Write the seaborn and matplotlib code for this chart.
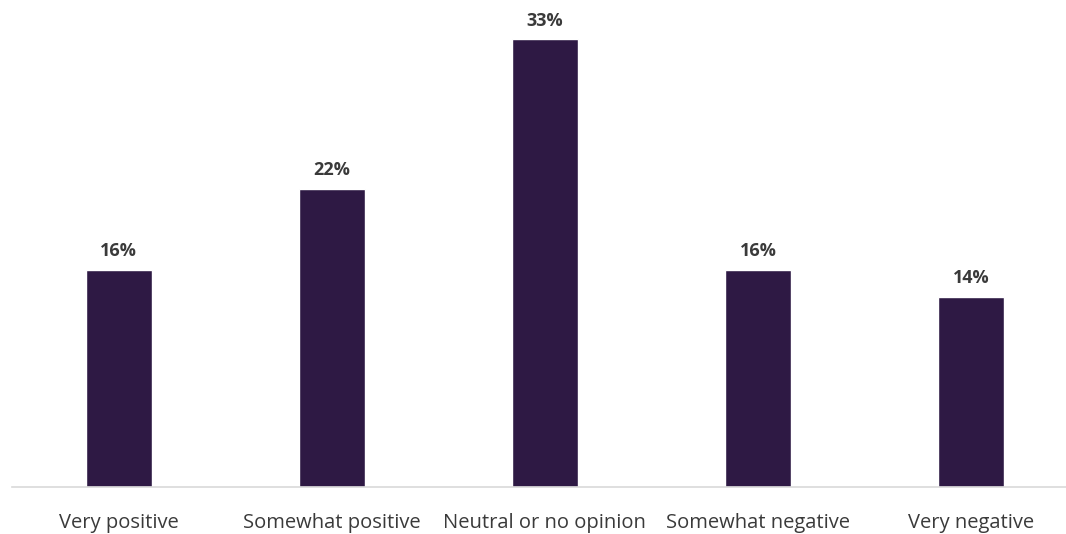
import matplotlib
matplotlib.use('Agg')
import matplotlib.pyplot as plt
import seaborn as sns
import pandas as pd

categories = ['Very positive', 'Somewhat positive', 'Neutral or no opinion',
              'Somewhat negative', 'Very negative']
values = [16, 22, 33, 16, 14]

sns.set_style('white')
plt.rcParams['font.family'] = ['Open Sans', 'DejaVu Sans']

df = pd.DataFrame({'category': categories, 'value': values})

fig = plt.figure(figsize=(10.66, 5.34), dpi=100)
ax = fig.add_axes([12/1066, 47/534, 1054/1066, 487/534])

sns.barplot(data=df, x='category', y='value', color='#2e1944',
            saturation=1, width=0.31, ax=ax)

for i, v in enumerate(values):
    ax.annotate('%d%%' % v, (i, v), xytext=(0, 7), textcoords='offset points',
                ha='center', va='bottom', fontsize=13, fontweight='bold',
                color='#3a3a3a')

ax.set_xlim(-0.5, 4.445)
ax.set_ylim(0, 35.9)
ax.set_xlabel('')
ax.set_ylabel('')
ax.set_yticks([])
for s in ['top', 'right', 'left']:
    ax.spines[s].set_visible(False)
ax.spines['bottom'].set_color('#d9d9d9')
ax.spines['bottom'].set_linewidth(1.2)
ax.tick_params(axis='x', length=0, pad=19, labelsize=14.5, labelcolor='#3a3a3a')

fig.savefig('out.png', dpi=100)
